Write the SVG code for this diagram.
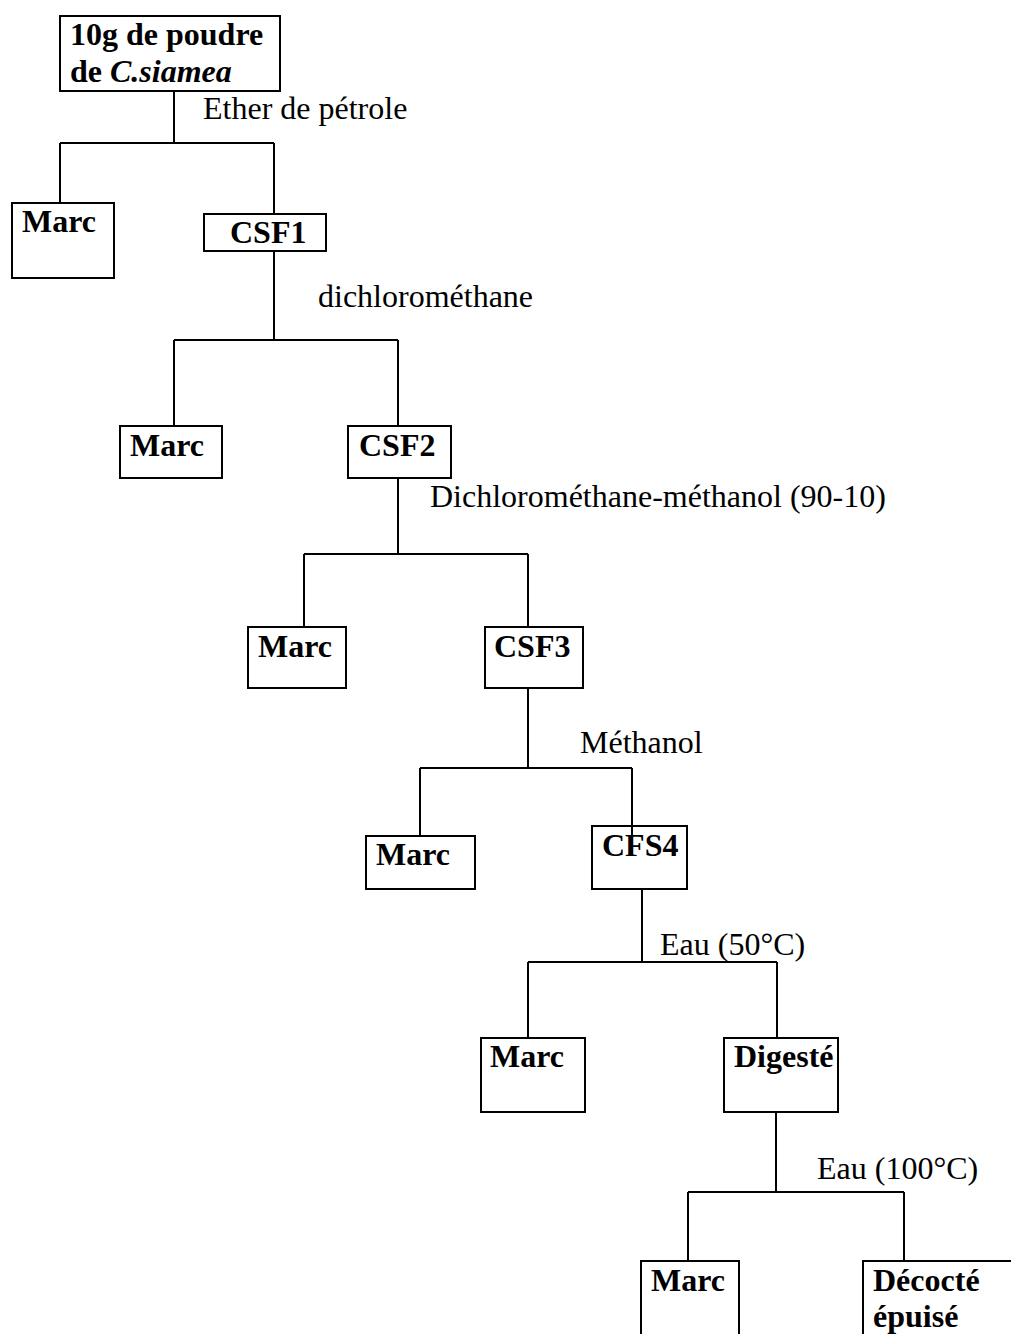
<svg xmlns="http://www.w3.org/2000/svg" width="1011" height="1334" viewBox="0 0 1011 1334">
<style>
.box{fill:#fff;stroke:#000;stroke-width:2}
.lbl{font-family:"Liberation Serif","Times New Roman",serif;font-size:32px;font-weight:bold;fill:#000}
.sol{font-family:"Liberation Serif","Times New Roman",serif;font-size:32px;fill:#000}
.ln{fill:none;stroke:#000;stroke-width:2}
</style>
<rect width="1011" height="1334" fill="#fff"/>
<g id="connectors">
<path class="ln" d="M174,92V143M60,143H274M60,143V203M274,143V214"/>
<path class="ln" d="M274,251V340M174,340H398M174,340V426M398,340V426"/>
<path class="ln" d="M398,478V554M304,554H528M304,554V627M528,554V627"/>
<path class="ln" d="M528,688V768M420,768H632M420,768V836M632,768V837"/>
<path class="ln" d="M642,889V962M528,962H777M528,962V1038M777,962V1038"/>
<path class="ln" d="M776,1112V1192M688,1192H904M688,1192V1261M904,1192V1261"/>
</g>
<g id="labels">
<text class="sol" x="203" y="119">Ether de pétrole</text>
<text class="sol" x="318" y="307">dichlorométhane</text>
<text class="sol" x="430" y="507">Dichlorométhane-méthanol (90-10)</text>
<text class="sol" x="580" y="753">Méthanol</text>
<text class="sol" x="660" y="955">Eau (50°C)</text>
<text class="sol" x="817" y="1179">Eau (100°C)</text>
</g>
<g id="n0"><rect class="box" x="60" y="16" width="220" height="75"/><text class="lbl" x="70" y="45">10g de poudre</text><text class="lbl" x="70" y="82">de <tspan font-style="italic">C.siamea</tspan></text></g>
<g id="n1"><rect class="box" x="12" y="203" width="102" height="75"/><text class="lbl" x="22" y="232">Marc</text></g>
<g id="n2"><rect class="box" x="204" y="214" width="122" height="37"/><text class="lbl" x="230" y="243">CSF1</text></g>
<g id="n3"><rect class="box" x="120" y="426" width="102" height="52"/><text class="lbl" x="130" y="456">Marc</text></g>
<g id="n4"><rect class="box" x="348" y="426" width="103" height="52"/><text class="lbl" x="359" y="456">CSF2</text></g>
<g id="n5"><rect class="box" x="248" y="627" width="98" height="61"/><text class="lbl" x="258" y="657">Marc</text></g>
<g id="n6"><rect class="box" x="485" y="627" width="98" height="61"/><text class="lbl" x="494" y="657">CSF3</text></g>
<g id="n7"><rect class="box" x="366" y="836" width="109" height="53"/><text class="lbl" x="376" y="865">Marc</text></g>
<g id="n8"><rect class="box" x="592" y="826" width="95" height="63"/><text class="lbl" x="602" y="856">CFS4</text></g>
<path class="ln" d="M632,826V837"/>
<g id="n9"><rect class="box" x="481" y="1038" width="104" height="74"/><text class="lbl" x="490" y="1067">Marc</text></g>
<g id="n10"><rect class="box" x="724" y="1038" width="114" height="74"/><text class="lbl" x="734" y="1067">Digesté</text></g>
<g id="n11"><rect class="box" x="641" y="1261" width="98" height="100"/><text class="lbl" x="651" y="1291">Marc</text></g>
<g id="n12"><rect class="box" x="863" y="1261" width="180" height="100"/><text class="lbl" x="873" y="1291">Décocté</text><text class="lbl" x="873" y="1327">épuisé</text></g>
</svg>
